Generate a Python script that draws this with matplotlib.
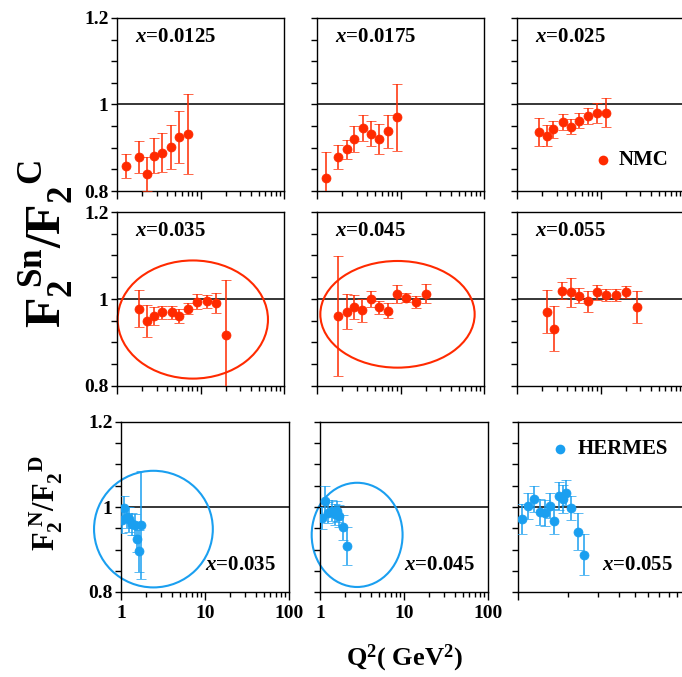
import matplotlib
matplotlib.use("Agg")
import matplotlib.pyplot as plt
from matplotlib.patches import Ellipse
from matplotlib.ticker import FixedLocator, MultipleLocator, LogLocator, NullFormatter, FuncFormatter

RED = "#ff2a00"
BLUE = "#1a9ff0"

# NMC Sn/C ratios (Q^2 in GeV^2, ratio, stat error) for each x bin
NMC_Q2_0125 = [1.29, 1.82, 2.29, 2.75, 3.5, 4.49, 5.54, 7.1]
NMC_R_0125 = [0.858, 0.878, 0.839, 0.882, 0.889, 0.902, 0.925, 0.932]
NMC_E_0125 = [0.028, 0.037, 0.040, 0.040, 0.044, 0.051, 0.061, 0.092]

NMC_Q2_0175 = [1.28, 1.79, 2.29, 2.8, 3.53, 4.44, 5.6, 7.05, 9.1]
NMC_R_0175 = [0.830, 0.879, 0.896, 0.921, 0.946, 0.932, 0.921, 0.938, 0.970]
NMC_E_0175 = [0.060, 0.028, 0.023, 0.030, 0.030, 0.029, 0.035, 0.038, 0.077]

NMC_Q2_025 = [1.82, 2.27, 2.68, 3.53, 4.48, 5.6, 7.05, 9.1, 11.5]
NMC_R_025 = [0.937, 0.928, 0.943, 0.959, 0.949, 0.963, 0.974, 0.981, 0.981]
NMC_E_025 = [0.032, 0.025, 0.020, 0.019, 0.017, 0.018, 0.018, 0.023, 0.034]

NMC_Q2_035 = [1.82, 2.29, 2.75, 3.5, 4.5, 5.54, 7.1, 9.1, 11.8, 15.2, 20.3]
NMC_R_035 = [0.978, 0.949, 0.961, 0.969, 0.969, 0.961, 0.978, 0.994, 0.995, 0.991, 0.918]
NMC_E_035 = [0.042, 0.037, 0.020, 0.014, 0.014, 0.017, 0.012, 0.017, 0.015, 0.023, 0.125]

NMC_Q2_045 = [1.76, 2.26, 2.78, 3.5, 4.45, 5.57, 7.0, 9.1, 11.6, 15.5, 20.2]
NMC_R_045 = [0.961, 0.971, 0.981, 0.974, 1.000, 0.981, 0.973, 1.012, 1.003, 0.994, 1.012]
NMC_E_045 = [0.138, 0.041, 0.028, 0.027, 0.018, 0.015, 0.017, 0.021, 0.010, 0.014, 0.022]

NMC_Q2_055 = [2.29, 2.8, 3.5, 4.48, 5.6, 7.05, 9.1, 11.6, 15.4, 20.3, 27.3]
NMC_R_055 = [0.971, 0.932, 1.019, 1.015, 1.008, 0.995, 1.015, 1.009, 1.009, 1.017, 0.981]
NMC_E_055 = [0.050, 0.051, 0.019, 0.034, 0.017, 0.024, 0.017, 0.013, 0.013, 0.014, 0.037]

# HERMES N/D ratios
HER_Q2_035 = [1.03, 1.10, 1.17, 1.25, 1.35, 1.45, 1.55, 1.63, 1.73]
HER_R_035 = [0.970, 0.997, 0.976, 0.971, 0.960, 0.958, 0.925, 0.897, 0.957]
HER_E_035 = [0.030, 0.030, 0.025, 0.030, 0.025, 0.025, 0.030, 0.050, 0.127]

HER_Q2_045 = [1.05, 1.15, 1.26, 1.38, 1.50, 1.60, 1.70, 1.87, 2.08]
HER_R_045 = [0.974, 1.014, 0.987, 0.991, 0.983, 0.990, 0.979, 0.952, 0.908]
HER_E_045 = [0.025, 0.035, 0.025, 0.025, 0.025, 0.025, 0.025, 0.030, 0.045]

HER_Q2_055 = [1.06, 1.15, 1.25, 1.35, 1.46, 1.55, 1.64, 1.75, 1.85, 1.95, 2.08, 2.29, 2.48]
HER_R_055 = [0.972, 1.002, 1.019, 0.988, 0.986, 1.003, 0.966, 1.025, 1.019, 1.034, 0.998, 0.942, 0.888]
HER_E_055 = [0.035, 0.030, 0.030, 0.030, 0.030, 0.030, 0.030, 0.033, 0.032, 0.030, 0.028, 0.043, 0.048]

plt.rcParams["font.family"] = "Liberation Serif"
plt.rcParams["font.weight"] = "bold"
plt.rcParams["mathtext.fontset"] = "custom"
plt.rcParams["mathtext.rm"] = "Liberation Serif:bold"
plt.rcParams["mathtext.bf"] = "Liberation Serif:bold"
plt.rcParams["mathtext.it"] = "Liberation Serif:italic"

W, H = 682, 677
fig = plt.figure(figsize=(W / 100, H / 100), dpi=100, facecolor="white")


def rect(l, r, t, b):
    return [l / W, 1 - b / H, (r - l) / W, (b - t) / H]


def setup(ax, xmax, show_y, show_x):
    ax.set_xscale("log")
    ax.set_xlim(1, xmax)
    ax.set_ylim(0.8, 1.2)
    ax.axhline(1.0, color="black", lw=1.1, zorder=1)
    ax.yaxis.set_major_locator(FixedLocator([0.8, 1.0, 1.2]))
    ax.yaxis.set_minor_locator(MultipleLocator(0.05))
    ax.xaxis.set_major_locator(LogLocator(base=10))
    ax.xaxis.set_minor_locator(LogLocator(base=10, subs=range(2, 10)))
    ax.xaxis.set_minor_formatter(NullFormatter())
    if show_y:
        ax.yaxis.set_major_formatter(FuncFormatter(lambda v, _: "1" if abs(v - 1) < 1e-9 else f"{v:.1f}"))
    else:
        ax.yaxis.set_major_formatter(NullFormatter())
    if show_x:
        ax.xaxis.set_major_formatter(FuncFormatter(lambda v, _: f"{v:g}"))
    else:
        ax.xaxis.set_major_formatter(NullFormatter())
    ax.tick_params(axis="y", which="both", direction="out", length=4, width=1, labelsize=14, pad=2)
    ax.tick_params(axis="x", which="major", direction="out", length=6, width=1, labelsize=14, pad=3)
    ax.tick_params(axis="x", which="minor", direction="out", length=3.5, width=1)
    for s in ax.spines.values():
        s.set_linewidth(1.0)


def label(ax, xs, ys, text):
    ax.text(xs, ys, text, transform=ax.transAxes, fontsize=15, va="center", ha="left")


def points(ax, q2, r, e, color):
    ax.errorbar(q2, r, yerr=e, fmt="o", color=color, ms=6.5, mec=color, mew=0.5,
                elinewidth=1.1, capsize=3.5, capthick=1.1, zorder=3)


cols_top = [(117, 284), (317, 484), (517, 684)]
cols_bot = [(121, 289), (320, 488), (518, 685)]
rows = [(18, 191), (212, 386)]

nmc = [
    (NMC_Q2_0125, NMC_R_0125, NMC_E_0125, r"$x$=0.0125"),
    (NMC_Q2_0175, NMC_R_0175, NMC_E_0175, r"$x$=0.0175"),
    (NMC_Q2_025, NMC_R_025, NMC_E_025, r"$x$=0.025"),
    (NMC_Q2_035, NMC_R_035, NMC_E_035, r"$x$=0.035"),
    (NMC_Q2_045, NMC_R_045, NMC_E_045, r"$x$=0.045"),
    (NMC_Q2_055, NMC_R_055, NMC_E_055, r"$x$=0.055"),
]

axes = []
for i, (q2, r, e, txt) in enumerate(nmc):
    t, b = rows[i // 3]
    l, rr = cols_top[i % 3]
    ax = fig.add_axes(rect(l, rr, t, b))
    setup(ax, 100, i % 3 == 0, False)
    points(ax, q2, r, e, RED)
    label(ax, 0.11, 0.89, txt)
    axes.append(ax)

# NMC marker key
axes[2].plot([0.515], [0.18], "o", color=RED, ms=7, mew=0, transform=axes[2].transAxes)
axes[2].text(0.61, 0.18, "NMC", transform=axes[2].transAxes, fontsize=15, va="center")

# highlighted regions
axes[3].add_patch(Ellipse((0.454, 0.382), 0.9, 0.679, transform=axes[3].transAxes,
                          fill=False, ec=RED, lw=1.5, clip_on=False))
axes[4].add_patch(Ellipse((0.482, 0.412), 0.924, 0.613, transform=axes[4].transAxes,
                          fill=False, ec=RED, lw=1.5, clip_on=False))

hermes = [
    (HER_Q2_035, HER_R_035, HER_E_035, r"$x$=0.035", 100),
    (HER_Q2_045, HER_R_045, HER_E_045, r"$x$=0.045", 100),
    (HER_Q2_055, HER_R_055, HER_E_055, r"$x$=0.055", 10),
]
bax = []
for i, (q2, r, e, txt, xmax) in enumerate(hermes):
    l, rr = cols_bot[i]
    ax = fig.add_axes(rect(l, rr, 422, 592))
    setup(ax, xmax, i == 0, i < 2)
    points(ax, q2, r, e, BLUE)
    label(ax, 0.5, 0.16, txt)
    bax.append(ax)

bax[0].add_patch(Ellipse((0.193, 0.37), 0.707, 0.686, transform=bax[0].transAxes,
                         fill=False, ec=BLUE, lw=1.5, clip_on=False))
bax[1].add_patch(Ellipse((0.221, 0.336), 0.541, 0.613, transform=bax[1].transAxes,
                         fill=False, ec=BLUE, lw=1.5, clip_on=False))

bax[2].plot([0.25], [0.84], "o", color=BLUE, ms=7, mew=0, transform=bax[2].transAxes)
bax[2].text(0.355, 0.84, "HERMES", transform=bax[2].transAxes, fontsize=15, va="center")

# axis titles
fig.text(46 / W, 1 - 244 / H, r"$\mathrm{F_2^{\ Sn}/F_2^{\ \ C}}$", rotation=90,
         fontsize=36, ha="center", va="center")
fig.text(46 / W, 1 - 503 / H, r"$\mathrm{F_2^{\ N}/F_2^{\ \ D}}$", rotation=90,
         fontsize=22, ha="center", va="center")
fig.text(404 / W, 1 - 658 / H, r"Q$^{\mathrm{2}}$( GeV$^{\mathrm{2}}$)",
         fontsize=19, ha="center", va="center")

fig.savefig("out.png", dpi=100, facecolor="white")
